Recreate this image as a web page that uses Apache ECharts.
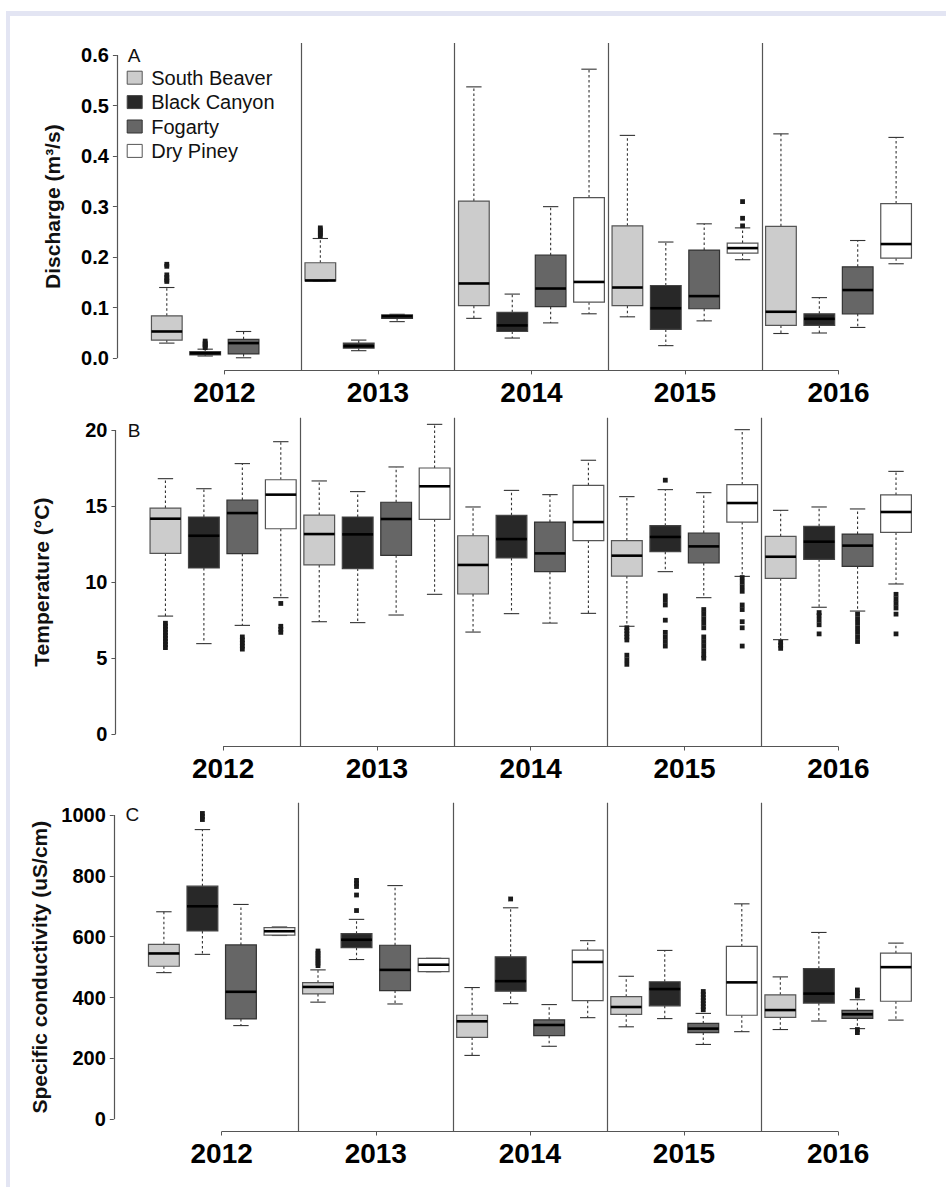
<!DOCTYPE html>
<html>
<head>
<meta charset="utf-8">
<script src="https://cdn.jsdelivr.net/npm/echarts@6/dist/echarts.min.js"></script>
<style>
html,body{margin:0;padding:0;background:#fff;}
#chart{width:946px;height:1187px;}
</style>
</head>
<body>
<div id="chart"></div>
<script>
// ---------------- DATA ----------------
const years = ['2012', '2013', '2014', '2015', '2016'];
const sites = ['South Beaver', 'Black Canyon', 'Fogarty', 'Dry Piney'];

// Each entry per year: [lower whisker, Q1, median, Q3, upper whisker]; null = no data
// Panel A: Discharge (m3/s)
const dischargeSouthBeaver = [[0.030, 0.036, 0.053, 0.084, 0.140], [0.153, 0.153, 0.154, 0.189, 0.237], [0.079, 0.104, 0.148, 0.311, 0.537], [0.082, 0.104, 0.140, 0.262, 0.441], [0.049, 0.065, 0.092, 0.261, 0.444]];
const dischargeBlackCanyon = [[0.0045, 0.0066, 0.0099, 0.013, 0.018], [0.015, 0.020, 0.024, 0.030, 0.036], [0.040, 0.053, 0.065, 0.091, 0.127], [0.025, 0.057, 0.099, 0.144, 0.230], [0.050, 0.065, 0.078, 0.088, 0.120]];
const dischargeFogarty = [[0.001, 0.0085, 0.030, 0.0375, 0.053], [0.0725, 0.079, 0.083, 0.0857, 0.087], [0.070, 0.102, 0.138, 0.204, 0.300], [0.074, 0.098, 0.123, 0.214, 0.266], [0.061, 0.088, 0.135, 0.181, 0.233]];
const dischargeDryPiney = [null, null, [0.088, 0.111, 0.151, 0.318, 0.572], [0.195, 0.208, 0.218, 0.228, 0.258], [0.187, 0.198, 0.226, 0.306, 0.437]];
const dischargeOutSouthBeaver = [[0.186, 0.182, 0.165, 0.160, 0.155, 0.152], [0.258, 0.254, 0.250, 0.246, 0.242], [], [], []];
const dischargeOutBlackCanyon = [[0.034, 0.030, 0.027, 0.024, 0.021], [], [], [], []];
const dischargeOutFogarty = [[], [], [], [], []];
const dischargeOutDryPiney = [[], [], [], [0.310, 0.277, 0.262], []];
const dischargeTicks = [0, 0.1, 0.2, 0.3, 0.4, 0.5, 0.6];

// Panel B: Temperature (°C)
const tempSouthBeaver = [[7.77, 11.89, 14.17, 14.87, 16.80], [7.40, 11.13, 13.16, 14.41, 16.65], [6.72, 9.22, 11.13, 13.05, 14.94], [7.10, 10.40, 11.74, 12.73, 15.62], [6.22, 10.25, 11.67, 13.01, 14.72]];
const tempBlackCanyon = [[5.96, 10.93, 13.05, 14.28, 16.14], [7.34, 10.89, 13.14, 14.28, 15.95], [7.93, 11.59, 12.83, 14.39, 16.03], [10.69, 12.00, 12.97, 13.71, 16.08], [8.35, 11.50, 12.66, 13.67, 14.94]];
const tempFogarty = [[7.16, 11.87, 14.54, 15.40, 17.79], [7.84, 11.76, 14.15, 15.25, 17.57], [7.31, 10.69, 11.89, 13.95, 15.75], [8.98, 11.26, 12.35, 13.23, 15.88], [8.10, 11.04, 12.40, 13.16, 14.81]];
const tempDryPiney = [[8.98, 13.51, 15.75, 16.73, 19.23], [9.20, 14.13, 16.30, 17.50, 20.37], [7.95, 12.73, 13.95, 16.36, 18.01], [10.38, 13.95, 15.20, 16.41, 20.02], [9.88, 13.27, 14.61, 15.73, 17.28]];
const tempOutSouthBeaver = [[7.3, 7.1, 6.9, 6.7, 6.5, 6.3, 6.1, 5.9, 5.7], [], [], [7.0, 6.8, 6.6, 6.4, 6.2, 5.2, 4.9, 4.6], [6.05, 5.85, 5.65]];
const tempOutBlackCanyon = [[], [], [], [16.7, 9.1, 8.8, 8.5, 7.5, 6.7, 6.4, 6.1, 5.8], [8.0, 7.8, 7.5, 7.2, 6.6]];
const tempOutFogarty = [[6.4, 6.2, 6.0, 5.8, 5.6], [], [], [8.2, 7.9, 7.6, 7.3, 7.0, 6.4, 6.1, 5.8, 5.5, 5.2, 5.0], [7.9, 7.6, 7.3, 7.0, 6.7, 6.4, 6.1]];
const tempOutDryPiney = [[8.6, 7.1, 6.9, 6.7], [], [], [10.3, 10.0, 9.7, 9.4, 8.5, 8.2, 7.4, 7.0, 5.8], [9.2, 8.9, 8.6, 8.3, 7.9, 6.6]];
const tempTicks = [0, 5, 10, 15, 20];

// Panel C: Specific conductivity (uS/cm)
const condSouthBeaver = [[482, 503, 545, 575, 682], [385, 412, 435, 449, 491], [210, 269, 322, 342, 433], [304, 345, 369, 403, 470], [295, 335, 359, 409, 468]];
const condBlackCanyon = [[542, 619, 700, 766, 952], [525, 564, 590, 610, 657], [380, 421, 454, 534, 695], [331, 373, 428, 452, 555], [323, 382, 413, 495, 614]];
const condFogarty = [[308, 330, 419, 573, 706], [379, 423, 491, 572, 768], [240, 275, 310, 327, 377], [246, 285, 298, 315, 348], [298, 332, 345, 358, 393]];
const condDryPiney = [[604, 605, 618, 630, 632], [485, 485, 508, 529, 529], [334, 390, 517, 556, 587], [288, 342, 450, 568, 708], [326, 388, 500, 546, 579]];
const condOutSouthBeaver = [[], [553, 545, 537, 529, 521, 513, 505], [], [], []];
const condOutBlackCanyon = [[1005, 995, 985], [785, 775, 765, 737, 686], [724], [], []];
const condOutFogarty = [[], [], [], [420, 410, 400, 390, 380, 370, 360], [425, 415, 405, 295, 285]];
const condOutDryPiney = [[], [], [], [], []];
const condTicks = [0, 200, 400, 600, 800, 1000];

// ---------------- STYLE / LAYOUT ----------------
const FONT = '"Liberation Sans", Arial, Helvetica, sans-serif';
const siteFill = ['#cccccc', '#282828', '#666666', '#ffffff'];
const siteStroke = ['#555555', '#444444', '#333333', '#555555'];
const yearTickPos = years.map((y, i) => i * 4 + 2.5);
const separators = [4.5, 8.5, 12.5, 16.5];

const panels = [
  { letter: 'A', grid: { left: 116.9, top: 42.9, unit: 39.225, height: 327.5 }, yMin: -0.024, yMax: 0.624, ticks: dischargeTicks,
    fmt: v => v.toFixed(1), name: 'Discharge (m³/s)', nameGap: 54, letterPos: [127.7, 55],
    boxes: [dischargeSouthBeaver, dischargeBlackCanyon, dischargeFogarty, dischargeDryPiney],
    outs: [dischargeOutSouthBeaver, dischargeOutBlackCanyon, dischargeOutFogarty, dischargeOutDryPiney] },
  { letter: 'B', grid: { left: 115.45, top: 417.8, unit: 38.875, height: 328.7 }, yMin: -0.8, yMax: 20.8, ticks: tempTicks,
    fmt: v => String(Math.round(v)), name: 'Temperature (°C)', nameGap: 63, letterPos: [127.7, 430],
    boxes: [tempSouthBeaver, tempBlackCanyon, tempFogarty, tempDryPiney],
    outs: [tempOutSouthBeaver, tempOutBlackCanyon, tempOutFogarty, tempOutDryPiney] },
  { letter: 'C', grid: { left: 113.8, top: 802.8, unit: 38.89, height: 328.7 }, yMin: -40, yMax: 1040, ticks: condTicks,
    fmt: v => String(Math.round(v)), name: 'Specific conductivity (uS/cm)', nameGap: 59, letterPos: [125.5, 814.5],
    boxes: [condSouthBeaver, condBlackCanyon, condFogarty, condDryPiney],
    outs: [condOutSouthBeaver, condOutBlackCanyon, condOutFogarty, condOutDryPiney] }
];

function boxRenderer(si) {
  return function (params, api) {
    const x = api.value(0);
    const lo = api.coord([x, api.value(1)]);
    const q1 = api.coord([x, api.value(2)]);
    const md = api.coord([x, api.value(3)]);
    const q3 = api.coord([x, api.value(4)]);
    const hi = api.coord([x, api.value(5)]);
    const w = api.size([0.8, 0])[0];
    const hw = w / 2, cw = w / 4, cx = lo[0];
    const dash = { stroke: '#333', lineWidth: 1.1, lineDash: [2.5, 2.5] };
    const solid = { stroke: '#333', lineWidth: 1.1 };
    return {
      type: 'group',
      children: [
        { type: 'line', shape: { x1: cx, y1: q3[1], x2: cx, y2: hi[1] }, style: dash },
        { type: 'line', shape: { x1: cx, y1: q1[1], x2: cx, y2: lo[1] }, style: dash },
        { type: 'line', shape: { x1: cx - cw, y1: hi[1], x2: cx + cw, y2: hi[1] }, style: solid },
        { type: 'line', shape: { x1: cx - cw, y1: lo[1], x2: cx + cw, y2: lo[1] }, style: solid },
        { type: 'rect', shape: { x: cx - hw, y: q3[1], width: w, height: Math.max(q1[1] - q3[1], 0.5) },
          style: { fill: siteFill[si], stroke: siteStroke[si], lineWidth: 1.2 } },
        { type: 'line', shape: { x1: cx - hw, y1: md[1], x2: cx + hw, y2: md[1] }, style: { stroke: '#000', lineWidth: 2.6 } }
      ]
    };
  };
}

const grids = [], xAxes = [], yAxes = [], series = [];
const graphics = [
  { type: 'rect', shape: { x: 6, y: 11, width: 940, height: 5 }, style: { fill: '#e3e5f3' }, silent: true },
  { type: 'rect', shape: { x: 6, y: 11, width: 4, height: 1176 }, style: { fill: '#e3e5f3' }, silent: true }
];

panels.forEach((p, pi) => {
  grids.push({ left: p.grid.left, top: p.grid.top, width: p.grid.unit * 21.6, height: p.grid.height, containLabel: false });
  xAxes.push({
    type: 'value', gridIndex: pi, min: -0.3, max: 21.3,
    splitLine: { show: false },
    axisLine: { show: false, onZero: false },
    axisTick: { show: true, customValues: yearTickPos, length: 4, lineStyle: { color: '#555', width: 1 } },
    axisLabel: { show: true, customValues: yearTickPos, margin: 8,
      formatter: v => years[Math.round((v - 2.5) / 4)],
      fontSize: 28, fontWeight: 'bold', color: '#000', fontFamily: FONT }
  });
  yAxes.push({
    type: 'value', gridIndex: pi, min: p.yMin, max: p.yMax,
    splitLine: { show: false },
    axisLine: { show: false, onZero: false },
    axisTick: { show: true, customValues: p.ticks, length: 4, lineStyle: { color: '#555', width: 1 } },
    axisLabel: { show: true, customValues: p.ticks, margin: 8, formatter: p.fmt,
      fontSize: 20, fontWeight: 'bold', color: '#000', fontFamily: FONT },
    name: p.name, nameLocation: 'middle', nameRotate: 90, nameGap: p.nameGap,
    nameTextStyle: { fontSize: 21, fontWeight: 'bold', color: '#111', fontFamily: FONT }
  });
  p.boxes.forEach((arr, si) => {
    const data = [];
    arr.forEach((s, yi) => { if (s) data.push([yi * 4 + si + 1].concat(s)); });
    series.push({
      type: 'custom', name: sites[si], xAxisIndex: pi, yAxisIndex: pi,
      renderItem: boxRenderer(si), data: data,
      encode: { x: 0, y: [1, 2, 3, 4, 5] },
      itemStyle: { color: siteFill[si], borderColor: siteStroke[si] },
      silent: true
    });
  });
  const outData = [];
  p.outs.forEach((arr, si) => {
    arr.forEach((vals, yi) => { vals.forEach(v => outData.push([yi * 4 + si + 1, v])); });
  });
  const yLo = p.ticks[0], yHi = p.ticks[p.ticks.length - 1];
  series.push({
    type: 'scatter', name: 'outliers-' + p.letter, xAxisIndex: pi, yAxisIndex: pi,
    symbol: 'rect', symbolSize: 4.8, itemStyle: { color: '#1a1a1a', opacity: 1 }, data: outData, silent: true,
    markLine: {
      silent: true, symbol: ['none', 'none'], label: { show: false },
      lineStyle: { color: '#555', width: 1.2, type: 'solid', opacity: 1 },
      emphasis: { disabled: true },
      data: separators.map(s => ({ xAxis: s })).concat([
        [{ coord: [yearTickPos[0], p.yMin] }, { coord: [yearTickPos[yearTickPos.length - 1], p.yMin] }],
        [{ coord: [-0.3, yLo] }, { coord: [-0.3, yHi] }]
      ])
    }
  });
  graphics.push({ type: 'text', x: p.letterPos[0], y: p.letterPos[1],
    style: { text: p.letter, fontSize: 19, fontFamily: FONT, fill: '#111', verticalAlign: 'middle', align: 'left' } });
});

const option = {
  animation: false,
  backgroundColor: '#ffffff',
  graphic: graphics,
  legend: {
    orient: 'vertical', left: 126.7, top: 67.7, padding: 0,
    itemWidth: 15, itemHeight: 13, itemGap: 4.4, selectedMode: false,
    textStyle: { fontSize: 20, color: '#111', fontFamily: FONT, padding: [0, 0, 0, 4] },
    data: sites.map((s, i) => ({ name: s, icon: 'rect',
      itemStyle: { color: siteFill[i], borderColor: siteStroke[i], borderWidth: 1 } }))
  },
  grid: grids,
  xAxis: xAxes,
  yAxis: yAxes,
  series: series
};

const chart = echarts.init(document.getElementById('chart'), null, { renderer: 'svg', width: 946, height: 1187 });
chart.setOption(option);
</script>
</body>
</html>
